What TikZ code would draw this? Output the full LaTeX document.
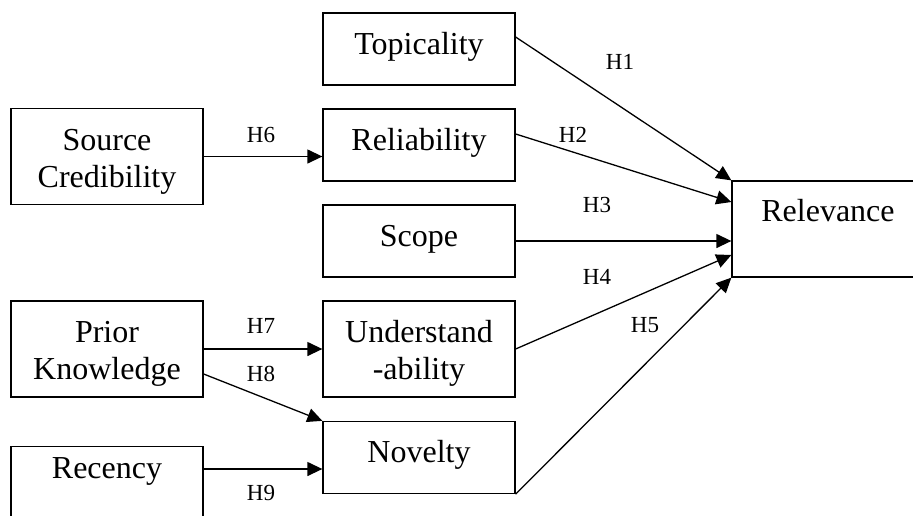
\documentclass[tikz,border=0pt]{standalone}
\usepackage{fontspec}
\setmainfont{Liberation Serif}
\usetikzlibrary{arrows.meta}

\begin{document}
\begin{tikzpicture}[x=1pt,y=-1pt]
  \tikzset{
    factor/.style={draw=black,line width=1.3pt,minimum width=192pt,minimum height=72pt,inner sep=2pt,align=center,
      text height=22pt,text depth=12pt,font=\fontsize{32}{37}\selectfont},
    tallfactor/.style={factor,minimum height=96pt,text height=68pt,text depth=7pt},
    hyparrow/.style={-{Triangle[length=15pt,width=14pt]},line width=1.3pt},
    hyplabel/.style={inner sep=0pt,font=\fontsize{23}{26}\selectfont}
  }

  \useasboundingbox (0,0) rectangle (913,515);
  \clip (0,0) rectangle (913,515);

  % ---------------- Antecedents (left column) ----------------
  \node[tallfactor] (source) at (107,156.5) {Source\\Credibility};
  \node[tallfactor] (prior) at (107,349) {Prior\\Knowledge};
  \node[tallfactor,anchor=north,text height=22pt,text depth=54pt] (recency) at (107,446) {Recency};

  % ---------------- Criteria (middle column) ----------------
  \node[factor] (topic) at (419,49) {Topicality};
  \node[factor] (reliab) at (419,145) {Reliability};
  \node[factor] (scope) at (419,241) {Scope};
  \node[tallfactor] (underst) at (419,349) {Understand\\-ability};
  \node[factor] (novelty) at (419,457.5) {Novelty};

  % Outcome (cut off at the right edge)
  \node[tallfactor,text height=22pt,text depth=38pt] (relev) at (828,229) {Relevance};

  % ---------------- Hypotheses H1--H5 ----------------
  \draw[hyparrow] ([yshift=12pt]topic.east) -- (relev.north west);
  \draw[hyparrow] ([yshift=11pt]reliab.east) -- ([yshift=27pt]relev.west);
  \draw[hyparrow] (scope.east) -- (scope.east -| relev.west);
  \draw[hyparrow] (underst.east) -- ([yshift=-26pt]relev.west);
  \draw[hyparrow] (novelty.south east) -- (relev.south west);

  \node[hyplabel] (hA) at (620,62) {H1};
  \node[hyplabel] (hB) at (573,135) {H2};
  \node[hyplabel] (hC) at (597,205) {H3};
  \node[hyplabel] (hD) at (597,277) {H4};
  \node[hyplabel] (hE) at (645,325) {H5};

  % ---------------- Hypotheses H6--H9 ----------------
  \draw[hyparrow] (source.east) -- (source.east -| reliab.west);
  \draw[hyparrow] (prior.east) -- (prior.east -| underst.west);
  \draw[hyparrow] ([yshift=-25pt]prior.east) -- (novelty.north west);
  \coordinate (novin) at ([yshift=-11.5pt]novelty.west);
  \draw[hyparrow] (novin -| recency.east) -- (novin);

  \node[hyplabel] (hF) at (261,135) {H6};
  \node[hyplabel] (hG) at (261,326) {H7};
  \node[hyplabel] (hH) at (261,374) {H8};
  \node[hyplabel] (hI) at (261,493) {H9};
\end{tikzpicture}
\end{document}
